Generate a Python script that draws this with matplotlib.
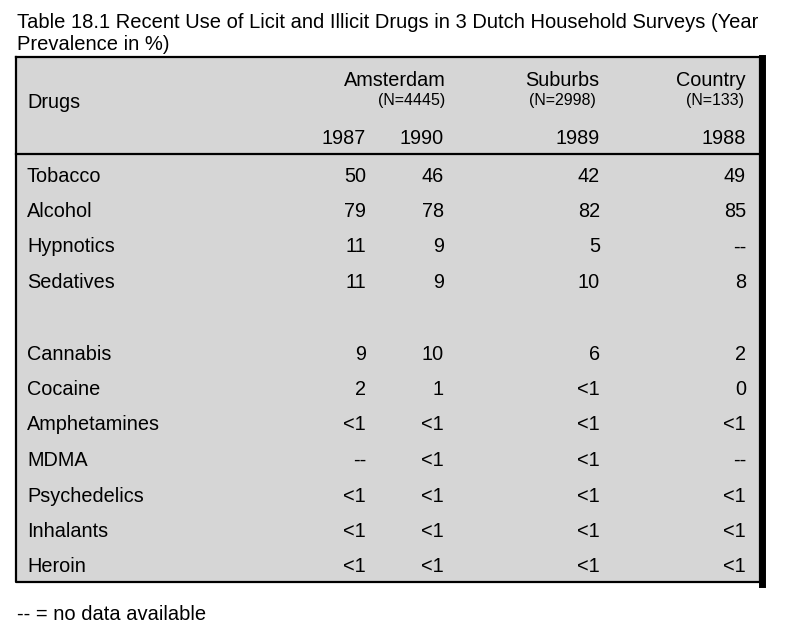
import matplotlib.pyplot as plt
from matplotlib.patches import Rectangle

plt.rcParams['font.family'] = ['Liberation Sans', 'DejaVu Sans']

# Data.
title = 'Table 18.1 Recent Use of Licit and Illicit Drugs in 3 Dutch Household Surveys (Year\nPrevalence in %)'
drugs = ['Tobacco', 'Alcohol', 'Hypnotics', 'Sedatives',
         'Cannabis', 'Cocaine', 'Amphetamines', 'MDMA', 'Psychedelics', 'Inhalants', 'Heroin']
ams_1987 = ['50', '79', '11', '11', '9', '2', '<1', '--', '<1', '<1', '<1']
ams_1990 = ['46', '78', '9', '9', '10', '1', '<1', '<1', '<1', '<1', '<1']
sub_1989 = ['42', '82', '5', '10', '6', '<1', '<1', '<1', '<1', '<1', '<1']
cou_1988 = ['49', '85', '--', '8', '2', '0', '<1', '--', '<1', '<1', '<1']
years = ['1987', '1990', '1989', '1988']
footnote = '-- = no data available'

# Figure in pixel coordinates.
fig = plt.figure(figsize=(7.88, 6.32), dpi=100)
ax = fig.add_axes([0, 0, 1, 1])
ax.set_xlim(0, 788)
ax.set_ylim(632, 0)
ax.axis('off')

# Box with shaded background and heavy right edge.
ax.add_patch(Rectangle((16, 57), 744, 525, facecolor='#d6d6d6', edgecolor='none'))
ax.plot([16, 760, 760, 16, 16], [57, 57, 582, 582, 57], color='black', lw=1.6)
ax.plot([762, 762], [58, 584], color='black', lw=5)
ax.plot([16, 760], [154, 154], color='black', lw=1.6)

fs = 14.3
ax.text(17, 34, title, fontsize=14.5, va='center', ha='left', linespacing=1.2)

# Header.
ax.text(27, 102, 'Drugs', fontsize=fs, va='center')
ax.text(395, 80, 'Amsterdam', fontsize=fs, va='center', ha='center')
ax.text(412, 101, '(N=4445)', fontsize=11.5, va='center', ha='center')
ax.text(562, 80, 'Suburbs', fontsize=fs, va='center', ha='center')
ax.text(562, 101, '(N=2998)', fontsize=11.5, va='center', ha='center')
ax.text(746, 80, 'Country', fontsize=fs, va='center', ha='right')
ax.text(744, 101, '(N=133)', fontsize=11.5, va='center', ha='right')

col_right = [366, 444, 600, 746]
for x, yr in zip(col_right, years):
    ax.text(x, 138, yr, fontsize=fs, va='center', ha='right')

# Rows.
columns = [ams_1987, ams_1990, sub_1989, cou_1988]
for i, drug in enumerate(drugs):
    y = 176 + i * 35.5 + (36 if i >= 4 else 0)
    ax.text(27, y, drug, fontsize=fs, va='center')
    for x, col in zip(col_right, columns):
        ax.text(x, y, col[i], fontsize=fs, va='center', ha='right')

ax.text(17, 614, footnote, fontsize=14.5, va='center')

plt.savefig('out.png', dpi=100)
plt.close()
